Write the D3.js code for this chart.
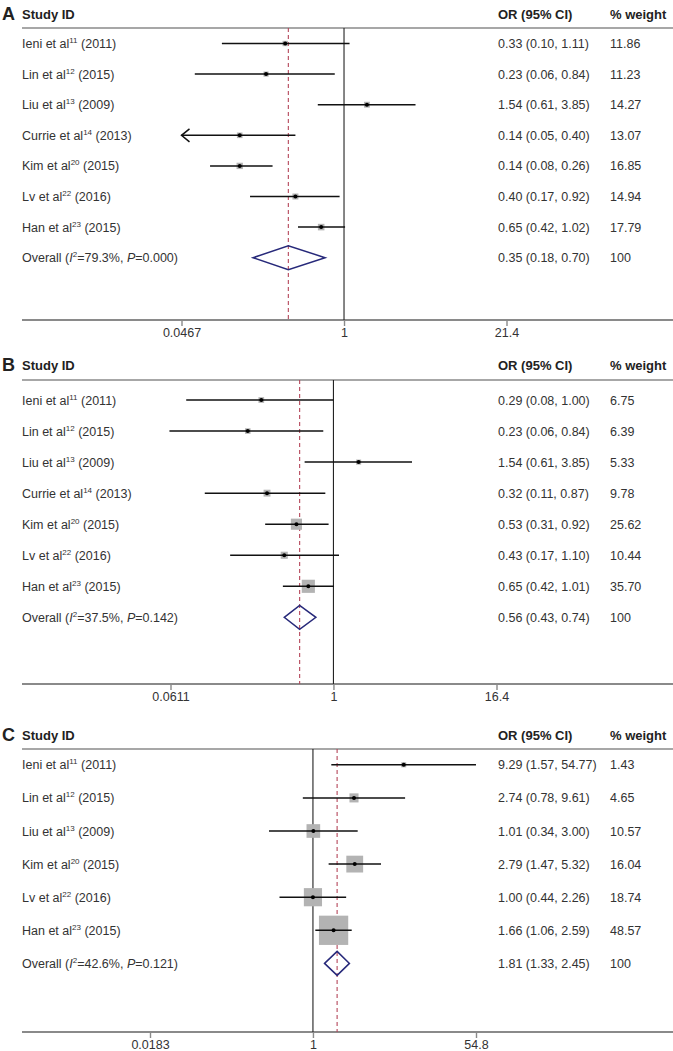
<!DOCTYPE html>
<html><head><meta charset="utf-8">
<script src="https://cdn.jsdelivr.net/npm/d3@7"></script>
<style>
html,body{margin:0;padding:0;background:#fff;}
svg{display:block;font-family:"Liberation Sans",Arial,sans-serif;}
</style></head>
<body>
<script>
// ---------- DATA ----------
const studiesA = ["Ieni et al","Lin et al","Liu et al","Currie et al","Kim et al","Lv et al","Han et al"];
const refsA = ["11","12","13","14","20","22","23"];
const yearsA = ["2011","2015","2009","2013","2015","2016","2015"];
const orA = [0.33,0.23,1.54,0.14,0.14,0.40,0.65];
const loA = [0.10,0.06,0.61,0.05,0.08,0.17,0.42];
const hiA = [1.11,0.84,3.85,0.40,0.26,0.92,1.02];
const wA = [11.86,11.23,14.27,13.07,16.85,14.94,17.79];
const truncLoA = [false,false,false,true,false,false,false];
const overallA = [0.35,0.18,0.70];
const hetA = ["79.3%","0.000"];
const ticksA = [0.0467,1,21.4];

const studiesB = ["Ieni et al","Lin et al","Liu et al","Currie et al","Kim et al","Lv et al","Han et al"];
const refsB = ["11","12","13","14","20","22","23"];
const yearsB = ["2011","2015","2009","2013","2015","2016","2015"];
const orB = [0.29,0.23,1.54,0.32,0.53,0.43,0.65];
const loB = [0.08,0.06,0.61,0.11,0.31,0.17,0.42];
const hiB = [1.00,0.84,3.85,0.87,0.92,1.10,1.01];
const wB = [6.75,6.39,5.33,9.78,25.62,10.44,35.70];
const truncLoB = [false,false,false,false,false,false,false];
const overallB = [0.56,0.43,0.74];
const hetB = ["37.5%","0.142"];
const ticksB = [0.0611,1,16.4];

const studiesC = ["Ieni et al","Lin et al","Liu et al","Kim et al","Lv et al","Han et al"];
const refsC = ["11","12","13","20","22","23"];
const yearsC = ["2011","2015","2009","2015","2016","2015"];
const orC = [9.29,2.74,1.01,2.79,1.00,1.66];
const loC = [1.57,0.78,0.34,1.47,0.44,1.06];
const hiC = [54.77,9.61,3.00,5.32,2.26,2.59];
const wC = [1.43,4.65,10.57,16.04,18.74,48.57];
const truncLoC = [false,false,false,false,false,false];
const overallC = [1.81,1.33,2.45];
const hetC = ["42.6%","0.121"];
const ticksC = [0.0183,1,54.8];

// ---------- LAYOUT ----------
const W = 673, H = 1051;
const svg = d3.select("body").append("svg").attr("width",W).attr("height",H);
svg.append("rect").attr("width",W).attr("height",H).attr("fill","#fff");

const panels = [
  {letter:"A", studies:studiesA, refs:refsA, years:yearsA, or:orA, lo:loA, hi:hiA, w:wA, trunc:truncLoA, overall:overallA, het:hetA, ticks:ticksA,
   headY:14, lineY:28, row0:43.5, step:30.6, axisY:320, xMinPx:181.5, xMaxPx:506.5, boxK:1.55},
  {letter:"B", studies:studiesB, refs:refsB, years:yearsB, or:orB, lo:loB, hi:hiB, w:wB, trunc:truncLoB, overall:overallB, het:hetB, ticks:ticksB,
   headY:365, lineY:380, row0:400, step:31.05, axisY:684, xMinPx:170.5, xMaxPx:496.5, boxK:2.2},
  {letter:"C", studies:studiesC, refs:refsC, years:yearsC, or:orC, lo:loC, hi:hiC, w:wC, trunc:truncLoC, overall:overallC, het:hetC, ticks:ticksC,
   headY:735, lineY:749, row0:764.8, step:33.1, axisY:1032, xMinPx:150, xMaxPx:476, boxK:4.2}
];

const textCol = "#333";
const gridGrey = "#8a8a8a";
const f2 = d3.format(".2f");

function drawPanel(p){
  const g = svg.append("g");
  const x = d3.scaleLog().domain([p.ticks[0], p.ticks[2]]).range([p.xMinPx, p.xMaxPx]);
  const n = p.studies.length;
  const y = i => p.row0 + i*p.step;
  const yOv = y(n);

  // header
  g.append("text").attr("x",2).attr("y",p.headY+6).attr("font-size",18).attr("font-weight","bold").attr("fill","#222").text(p.letter);
  const hdr = [["Study ID",22],["OR (95% CI)",498],["% weight",610]];
  hdr.forEach(([t,xx])=>g.append("text").attr("x",xx).attr("y",p.headY+4.5).attr("font-size",13).attr("font-weight","bold").attr("fill","#222").text(t));
  g.append("line").attr("x1",22).attr("x2",W).attr("y1",p.lineY).attr("y2",p.lineY).attr("stroke",gridGrey).attr("stroke-width",1.6);

  // x axis
  const axis = d3.axisBottom(x).tickValues(p.ticks).tickSize(6).tickPadding(2).tickFormat(d=>String(d));
  const ag = g.append("g").attr("transform",`translate(0,${p.axisY})`).call(axis);
  ag.select(".domain").remove();
  ag.selectAll(".tick line").attr("stroke",gridGrey).attr("stroke-width",1.4);
  ag.selectAll(".tick text").attr("fill",textCol).attr("font-size",12.5).attr("font-family","Liberation Sans, Arial, sans-serif");
  g.append("line").attr("x1",22).attr("x2",W).attr("y1",p.axisY).attr("y2",p.axisY).attr("stroke",gridGrey).attr("stroke-width",1.8);

  // reference line at 1
  g.append("line").attr("x1",x(1)).attr("x2",x(1)).attr("y1",p.lineY).attr("y2",p.axisY).attr("stroke","#222").attr("stroke-width",1.1);
  // overall dashed line
  g.append("line").attr("x1",x(p.overall[0])).attr("x2",x(p.overall[0])).attr("y1",p.lineY).attr("y2",p.axisY)
    .attr("stroke","#b5475a").attr("stroke-width",1.1).attr("stroke-dasharray","4,3");

  // boxes
  p.or.forEach((v,i)=>{
    const s = p.boxK*Math.sqrt(p.w[i]);
    g.append("rect").attr("x",x(v)-s/2).attr("y",y(i)-s/2).attr("width",s).attr("height",s).attr("fill","#b3b3b3");
  });
  // CI lines
  p.or.forEach((v,i)=>{
    const xl = p.trunc[i] ? x.range()[0] : x(p.lo[i]);
    g.append("line").attr("x1",xl).attr("x2",x(p.hi[i])).attr("y1",y(i)).attr("y2",y(i)).attr("stroke","#111").attr("stroke-width",1.5);
    if(p.trunc[i]){
      g.append("path").attr("d",`M${xl+8},${y(i)-6.5}L${xl},${y(i)}L${xl+8},${y(i)+6.5}`).attr("fill","none").attr("stroke","#111").attr("stroke-width",1.5);
    }
    g.append("circle").attr("cx",x(v)).attr("cy",y(i)).attr("r",2).attr("fill","#000");
  });
  // diamond
  const dh = 12;
  g.append("path").attr("d",`M${x(p.overall[1])},${yOv}L${x(p.overall[0])},${yOv-dh}L${x(p.overall[2])},${yOv}L${x(p.overall[0])},${yOv+dh}Z`)
    .attr("fill","none").attr("stroke","#27297a").attr("stroke-width",1.5);

  // texts
  p.studies.forEach((s,i)=>{
    const t = g.append("text").attr("x",22).attr("y",y(i)+4.5).attr("font-size",12.5).attr("fill",textCol);
    t.append("tspan").text(s);
    t.append("tspan").attr("font-size",8).attr("dy",-5).text(p.refs[i]);
    t.append("tspan").attr("dy",5).text(" ("+p.years[i]+")");
    g.append("text").attr("x",498).attr("y",y(i)+4.5).attr("font-size",12.5).attr("fill",textCol)
      .text(`${f2(p.or[i])} (${f2(p.lo[i])}, ${f2(p.hi[i])})`);
    g.append("text").attr("x",610).attr("y",y(i)+4.5).attr("font-size",12.5).attr("fill",textCol).text(f2(p.w[i]));
  });
  const ot = g.append("text").attr("x",22).attr("y",yOv+4.5).attr("font-size",12.5).attr("fill",textCol);
  ot.append("tspan").text("Overall (");
  ot.append("tspan").attr("font-style","italic").text("I");
  ot.append("tspan").attr("font-size",8).attr("dy",-5).text("2");
  ot.append("tspan").attr("dy",5).text("="+p.het[0]+", ");
  ot.append("tspan").attr("font-style","italic").text("P");
  ot.append("tspan").text("="+p.het[1]+")");
  g.append("text").attr("x",498).attr("y",yOv+4.5).attr("font-size",12.5).attr("fill",textCol)
    .text(`${f2(p.overall[0])} (${f2(p.overall[1])}, ${f2(p.overall[2])})`);
  g.append("text").attr("x",610).attr("y",yOv+4.5).attr("font-size",12.5).attr("fill",textCol).text("100");
}
panels.forEach(drawPanel);
</script>
</body></html>
